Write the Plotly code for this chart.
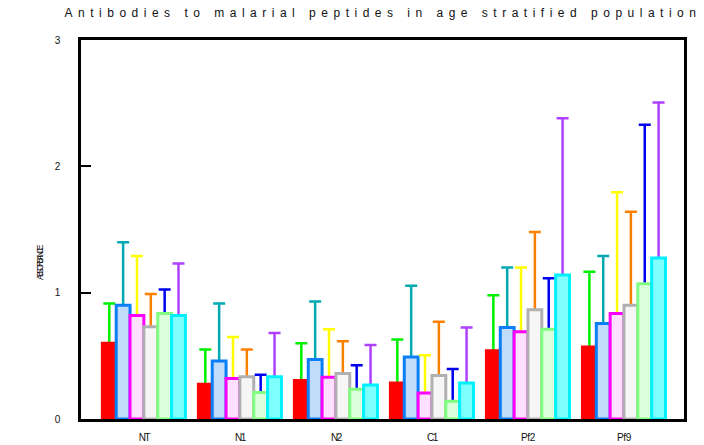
import plotly.graph_objects as go

categories = ["NT", "N1", "N2", "C1", "Pf2", "Pf9"]
tick_labels = ["NT", "N1", "N2", "C1", "Pf2", "Pf9"]

g1_mean = [0.60, 0.275, 0.305, 0.285, 0.54, 0.57]
g1_sd = [0.315, 0.275, 0.295, 0.345, 0.44, 0.595]
g2_mean = [0.90, 0.46, 0.47, 0.49, 0.725, 0.755]
g2_sd = [0.50, 0.455, 0.46, 0.565, 0.475, 0.535]
g3_mean = [0.82, 0.32, 0.33, 0.205, 0.69, 0.835]
g3_sd = [0.47, 0.33, 0.38, 0.30, 0.51, 0.96]
g4_mean = [0.73, 0.335, 0.36, 0.345, 0.865, 0.90]
g4_sd = [0.26, 0.215, 0.255, 0.425, 0.615, 0.74]
g5_mean = [0.835, 0.21, 0.235, 0.14, 0.71, 1.07]
g5_sd = [0.19, 0.14, 0.19, 0.255, 0.405, 1.26]
g6_mean = [0.82, 0.335, 0.27, 0.285, 1.14, 1.275]
g6_sd = [0.41, 0.345, 0.315, 0.44, 1.24, 1.23]

series_names = ["Group 1", "Group 2", "Group 3", "Group 4", "Group 5", "Group 6"]
means = [g1_mean, g2_mean, g3_mean, g4_mean, g5_mean, g6_mean]
sds = [g1_sd, g2_sd, g3_sd, g4_sd, g5_sd, g6_sd]

fills = ["#FF0000", "#C0DCFA", "#FFE0FF", "#F6F6F6", "#DCFFDC", "#80FFFF"]
outlines = ["#FF0000", "#0A7FF5", "#FF00FF", "#B0B0B0", "#80FF80", "#00F0FF"]
err_colors = ["#00F000", "#00AAB0", "#FFFF00", "#FF8000", "#0000F0", "#B040FF"]

fig = go.Figure()
for k, (name, m, s, fc, lc, ec) in enumerate(zip(series_names, means, sds, fills, outlines, err_colors)):
    # error bar layer (upper whisker only; lower part hidden behind the bar drawn next)
    fig.add_trace(go.Bar(
        x=categories, y=m, name=name, offsetgroup=str(k), showlegend=False,
        marker=dict(color="rgba(0,0,0,0)", line=dict(width=0)),
        error_y=dict(type="data", array=s, arrayminus=m, symmetric=False,
                     color=ec, thickness=2.5, width=6),
        hoverinfo="skip",
    ))
    # visible bar
    fig.add_trace(go.Bar(
        x=categories, y=m, name=name, offsetgroup=str(k),
        marker=dict(color=fc, line=dict(color=lc, width=3)),
    ))

def tick_style(t):
    sp = "-0.3px" if t.startswith("Pf") else "-1.5px"
    return '<span style="letter-spacing:%s">%s</span>' % (sp, t)

fig.update_layout(
    width=704, height=445,
    margin=dict(l=81, r=20, t=40, b=26, autoexpand=False),
    paper_bgcolor="white", plot_bgcolor="white",
    barmode="group", bargap=0.135, bargroupgap=0,
    showlegend=False,
    font=dict(family="Liberation Sans, Arial, sans-serif", color="#222"),
    title=dict(
        text='<span style="letter-spacing:5.5px">Antibodies to malarial peptides in age stratified population</span>',
        x=383 / 704, xanchor="center", y=1 - 12.5 / 445, yanchor="middle",
        font=dict(size=12, color="#111"),
    ),
    xaxis=dict(
        type="category", range=[-0.655, 5.625], automargin=False,
        tickvals=categories,
        ticktext=[tick_style(t) for t in tick_labels],
        ticks="", showline=True, linecolor="black", linewidth=2.5, mirror=True,
        showgrid=False, tickfont=dict(size=10, color="#111"), ticklabelstandoff=7,
    ),
    yaxis=dict(
        range=[0, 3], automargin=False, tickvals=[0, 1, 2, 3], ticktext=["0", "1", "2", "3"],
        ticks="inside", ticklen=10, tickwidth=2, tickcolor="black",
        showline=True, linecolor="black", linewidth=2.5, mirror=True,
        showgrid=False, zeroline=False, tickfont=dict(size=10, color="#111"),
        ticklabelstandoff=16,
    ),
    annotations=[dict(
        text='<span style="letter-spacing:-3px">ABSORBANCE</span>',
        textangle=-90, xref="paper", yref="paper",
        x=(40 - 81) / 603, y=(419 - 262) / 379, xanchor="center", yanchor="middle",
        showarrow=False, font=dict(size=9, color="#111"),
    )],
)

fig.write_html("out.html", config={"displayModeBar": False},
               post_script="document.body.style.margin='0';")
